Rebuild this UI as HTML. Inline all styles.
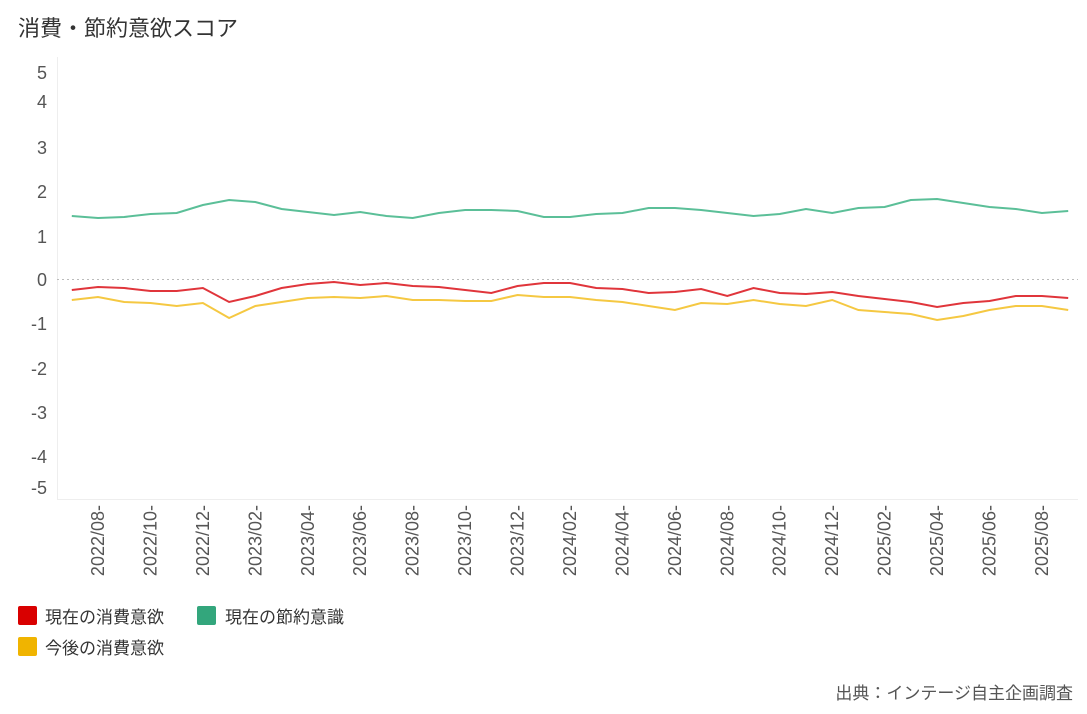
<!DOCTYPE html>
<html><head><meta charset="utf-8"><style>
body{margin:0;background:#fff;width:1087px;height:709px;overflow:hidden;font-family:"Liberation Sans","Noto Sans CJK JP",sans-serif;}
svg text{font-family:"Liberation Sans","Noto Sans CJK JP",sans-serif;}
</style></head><body>
<svg id="s" width="1087" height="709" xmlns="http://www.w3.org/2000/svg">
<text x="18" y="36" font-size="22" fill="#333">消費・節約意欲スコア</text>
<line x1="57.5" y1="57" x2="57.5" y2="500" stroke="#eee"/>
<line x1="57" y1="499.5" x2="1078" y2="499.5" stroke="#eee"/>
<line x1="57" y1="279.5" x2="1078" y2="279.5" stroke="#bbb" stroke-dasharray="2,3"/>
<g font-size="18" fill="#555" text-anchor="end">
<text x="47" y="79">5</text><text x="47" y="108">4</text><text x="47" y="154">3</text>
<text x="47" y="198">2</text><text x="47" y="243">1</text><text x="47" y="286">0</text>
<text x="47" y="330">-1</text><text x="47" y="375">-2</text><text x="47" y="419">-3</text>
<text x="47" y="463">-4</text><text x="47" y="494">-5</text>
</g>
<g id="xt" font-size="17" fill="#555"></g>
<g id="ln" fill="none" stroke-width="2"></g>
<rect x="18" y="606" width="19" height="19" rx="2" fill="#d90000"/>
<text x="45" y="623" font-size="17" fill="#333">現在の消費意欲</text>
<rect x="197" y="606" width="19" height="19" rx="2" fill="#33a67c"/>
<text x="225" y="623" font-size="17" fill="#333">現在の節約意識</text>
<rect x="18" y="637" width="19" height="19" rx="2" fill="#f0b400"/>
<text x="45" y="654" font-size="17" fill="#333">今後の消費意欲</text>
<text x="1073" y="699" font-size="17" fill="#555" text-anchor="end">出典：インテージ自主企画調査</text>
</svg>
<script>
var g=[216,218,217,214,213,205,200,202,209,212,215,212,216,218,213,210,210,211,217,217,214,213,208,208,210,213,216,214,209,213,208,207,200,199,203,207,209,213,211];
var r=[290,287,288,291,291,288,302,296,288,284,282,285,283,286,287,290,293,286,283,283,288,289,293,292,289,296,288,293,294,292,296,299,302,307,303,301,296,296,298];
var y=[300,297,302,303,306,303,318,306,302,298,297,298,296,300,300,301,301,295,297,297,300,302,306,310,303,304,300,304,306,300,310,312,314,320,316,310,306,306,310];
var ns="http://www.w3.org/2000/svg",ln=document.getElementById('ln'),xt=document.getElementById('xt');
function X(i){return 71.8+i*26.22;}
[[g,'#5bbf98'],[y,'#f5c842'],[r,'#e0353b']].forEach(function(s){
var p=document.createElementNS(ns,'polyline');
p.setAttribute('points',s[0].map(function(v,i){return X(i).toFixed(1)+','+v;}).join(' '));
p.setAttribute('stroke',s[1]);ln.appendChild(p);});
var labs=['2022/08','2022/10','2022/12','2023/02','2023/04','2023/06','2023/08','2023/10','2023/12','2024/02','2024/04','2024/06','2024/08','2024/10','2024/12','2025/02','2025/04','2025/06','2025/08'];
labs.forEach(function(l,k){var x=X(1+2*k);
var t=document.createElementNS(ns,'text');t.textContent=l+'-';
t.setAttribute('transform','translate('+(x+6)+',505) rotate(-90)');t.setAttribute('text-anchor','end');
t.setAttribute('font-size','18');xt.appendChild(t);});
</script>
</body></html>
